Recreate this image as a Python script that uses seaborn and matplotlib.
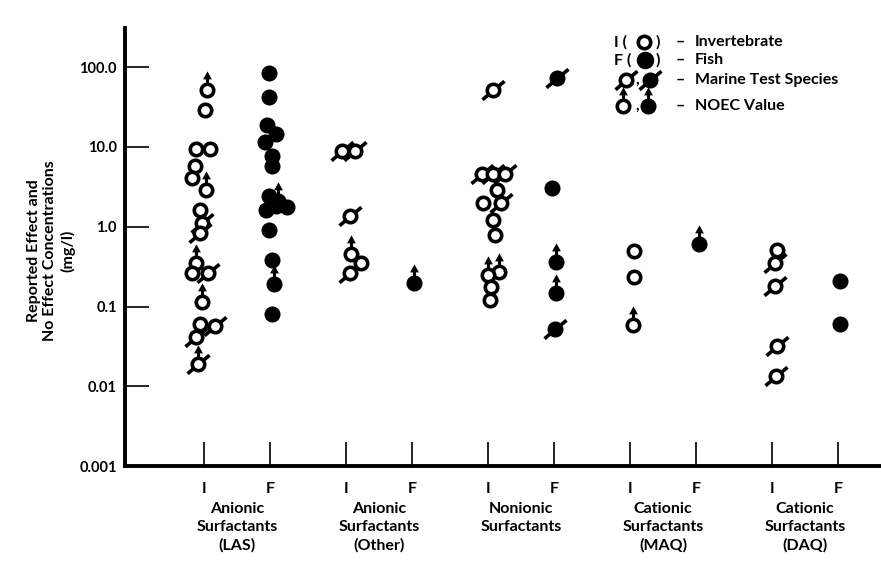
import numpy as np
import pandas as pd
import seaborn as sns
import matplotlib.pyplot as plt
from matplotlib.path import Path

# categories on the x axis
group_labels = ["Anionic\nSurfactants\n(LAS)", "Anionic\nSurfactants\n(Other)",
                "Nonionic\nSurfactants", "Cationic\nSurfactants\n(MAQ)",
                "Cationic\nSurfactants\n(DAQ)"]
kind_labels = ["I", "F"]
y_ticks = [0.001, 0.01, 0.1, 1, 10, 100]
y_tick_labels = ["0.001", "0.01", "0.1", "1.0", "10.0", "100.0"]

# how many values per (group, organism) series
series_group = [0, 0, 1, 1, 2, 2, 3, 3, 4, 4]
series_kind = ["I", "F", "I", "F", "I", "F", "I", "F", "I", "F"]
series_count = [18, 16, 6, 1, 13, 5, 3, 1, 5, 2]

# reported concentrations (mg/l)
value = [
    # LAS invertebrate
    51, 28.8, 9.4, 9.4, 5.8, 4.1, 2.9, 1.64, 1.11, 0.83, 0.35, 0.26, 0.26, 0.113, 0.06, 0.057, 0.042, 0.019,
    # LAS fish
    84, 42.5, 18.6, 14.6, 11.4, 7.8, 5.8, 2.4, 2.1, 1.8, 1.75, 1.6, 0.92, 0.38, 0.19, 0.081,
    # other anionic invertebrate / fish
    9.0, 9.0, 1.35, 0.46, 0.35, 0.26,
    0.2,
    # nonionic invertebrate / fish
    51, 4.55, 4.55, 4.55, 2.9, 2.0, 2.0, 1.23, 0.79, 0.27, 0.25, 0.176, 0.12,
    72.6, 3.1, 0.36, 0.15, 0.052,
    # MAQ invertebrate / fish
    0.49, 0.235, 0.058,
    0.61,
    # DAQ invertebrate / fish
    0.51, 0.35, 0.18, 0.032, 0.0134,
    0.21, 0.06,
]
# sideways scatter of overlapping symbols (fraction of I-F spacing)
jitter = [
    0.04, 0.01, -0.12, 0.08, -0.14, -0.19, 0.03, -0.07, -0.04, -0.07, -0.13, -0.19, 0.05, -0.03, -0.07, 0.16, -0.12, -0.09,
    -0.02, -0.02, -0.05, 0.08, -0.08, 0.03, 0.03, -0.02, 0.12, 0.08, 0.25, -0.06, -0.02, 0.03, 0.05, 0.03,
    -0.07, 0.13, 0.06, 0.07, 0.23, 0.06,
    0.02,
    0.07, -0.1, 0.08, 0.25, 0.13, -0.08, 0.2, 0.07, 0.1, 0.17, -0.01, 0.04, 0.02,
    0.04, -0.04, 0.03, 0.03, 0.01,
    0.06, 0.06, 0.05,
    0.04,
    0.07, 0.04, 0.04, 0.08, 0.06,
    0.03, 0.03,
]
# marine test species
marine = [
    0, 0, 0, 0, 0, 0, 0, 0, 1, 1, 0, 0, 1, 0, 0, 1, 1, 1,
    0, 0, 0, 0, 0, 0, 0, 0, 0, 0, 0, 0, 0, 0, 0, 0,
    1, 1, 1, 0, 0, 1,
    0,
    1, 1, 1, 1, 0, 0, 1, 0, 0, 0, 0, 0, 0,
    1, 0, 0, 0, 1,
    0, 0, 0,
    0,
    0, 1, 1, 1, 1,
    0, 0,
]
# NOEC values
noec = [
    1, 0, 0, 0, 0, 0, 1, 0, 0, 0, 1, 0, 0, 1, 0, 0, 0, 1,
    0, 0, 0, 0, 0, 0, 0, 0, 1, 0, 0, 0, 0, 0, 1, 0,
    0, 0, 0, 1, 0, 0,
    1,
    0, 0, 0, 0, 0, 0, 0, 0, 0, 1, 1, 0, 0,
    0, 0, 1, 1, 0,
    0, 0, 1,
    1,
    0, 0, 0, 0, 0,
    0, 0,
]

group_step = 2.15
df = pd.DataFrame({
    "group": np.repeat(series_group, series_count),
    "kind": np.repeat(series_kind, series_count),
    "value": value,
    "jitter": jitter,
    "marine": np.array(marine, dtype=bool),
    "noec": np.array(noec, dtype=bool),
})
df["x"] = df["group"] * group_step + (df["kind"] == "F") + df["jitter"]

# marker shapes
slash = Path([(-1, -0.84), (1, 0.84)], [Path.MOVETO, Path.LINETO])
arrow = Path([(-0.08, 0.38), (0.08, 0.38), (0.08, 0.58), (0.23, 0.58), (0, 1.0),
              (-0.23, 0.58), (-0.08, 0.58), (-0.08, 0.38)])

plt.rcParams["font.family"] = ["Lato", "DejaVu Sans"]
plt.rcParams["font.weight"] = "bold"
fw = "bold"

fig = plt.figure(figsize=(8.81, 5.70), dpi=100)
ax = fig.add_axes([0.142, 0.182, 0.858, 0.769])

circle_s = 80
lw = 2.6
arrow_s = 760

sns.scatterplot(data=df[df.marine], x="x", y="value", marker=slash, s=250,
                color="black", edgecolor="black", linewidth=lw, zorder=2, ax=ax)
sns.scatterplot(data=df[df.kind == "I"], x="x", y="value", marker="o", s=circle_s,
                color="white", edgecolor="black", linewidth=lw, zorder=3, ax=ax)
sns.scatterplot(data=df[df.kind == "F"], x="x", y="value", marker="o", s=circle_s,
                color="black", edgecolor="black", linewidth=lw, zorder=3, ax=ax)
sns.scatterplot(data=df[df.noec], x="x", y="value", marker=arrow, s=arrow_s,
                color="black", edgecolor="black", linewidth=0, zorder=4, ax=ax)

ax.set_yscale("log")
ax.set_ylim(0.001, 10 ** 2.49)
ax.set_xlim(-1.2, 10.25)
ax.set_yticks(y_ticks)
ax.set_yticklabels(y_tick_labels)
ax.minorticks_off()
tick_x = [g * group_step + k for g in range(len(group_labels)) for k in range(2)]
ax.set_xticks(tick_x)
ax.set_xticklabels(kind_labels * len(group_labels))
ax.tick_params(axis="both", direction="in", length=17, width=1.2)
ax.tick_params(axis="x", pad=11, labelsize=11.5)
ax.tick_params(axis="y", pad=6, labelsize=10.5)
for lab in ax.get_xticklabels() + ax.get_yticklabels():
    lab.set_fontweight(fw)
ax.set_xlabel("")
ax.set_ylabel("")
for side in ["top", "right"]:
    ax.spines[side].set_visible(False)
for side in ["left", "bottom"]:
    ax.spines[side].set_linewidth(2.8)

for g, lab in enumerate(group_labels):
    ax.text(g * group_step + 0.5, -0.082, lab, transform=ax.get_xaxis_transform(),
            ha="center", va="top", fontsize=11.5, fontweight=fw, linespacing=1.35)

fig.text(0.058, 0.56, "Reported Effect and\nNo Effect Concentrations\n(mg/l)",
         rotation=90, ha="center", va="center", fontsize=11.5, fontweight=fw,
         multialignment="center", linespacing=1.2)

# legend, placed in pixel terms of the axes
def ax_frac(px, py):
    return (px - 125) / 756, (466 - py) / 438

rows = [("I (", ")", "Invertebrate", 42), ("F (", ")", "Fish", 60)]
for pre, post, txt, py in rows:
    for px, s in [(614, pre), (655, post), (676, "\u2013"), (695, txt)]:
        fx, fy = ax_frac(px, py)
        ax.text(fx, fy, s, transform=ax.transAxes, ha="left", va="center",
                fontsize=11.5, fontweight=fw)
fx, fy = ax_frac(644, 42)
ax.scatter([fx], [fy], transform=ax.transAxes, marker="o", s=circle_s, color="white",
           edgecolor="black", linewidth=lw, zorder=5, clip_on=False)
fx, fy = ax_frac(645, 60)
ax.scatter([fx], [fy], transform=ax.transAxes, marker="o", s=circle_s + 20, color="black",
           edgecolor="black", linewidth=lw, zorder=5, clip_on=False)

for py, txt in [(80, "Marine Test Species"), (106, "NOEC Value")]:
    for px, s in [(676, "\u2013"), (695, txt), (635, ",")]:
        fx, fy = ax_frac(px, py)
        ax.text(fx, fy, s, transform=ax.transAxes, ha="left", va="center",
                fontsize=11.5, fontweight=fw)
for px, face in [(626, "white"), (650, "black")]:
    fx, fy = ax_frac(px, 80)
    ax.scatter([fx], [fy], transform=ax.transAxes, marker=slash, s=250, color="black",
               edgecolor="black", linewidth=lw, zorder=4, clip_on=False)
    ax.scatter([fx], [fy], transform=ax.transAxes, marker="o", s=circle_s, color=face,
               edgecolor="black", linewidth=lw, zorder=5, clip_on=False)
for px, face in [(623, "white"), (648, "black")]:
    fx, fy = ax_frac(px, 106)
    ax.scatter([fx], [fy], transform=ax.transAxes, marker="o", s=circle_s, color=face,
               edgecolor="black", linewidth=lw, zorder=5, clip_on=False)
    ax.scatter([fx], [fy], transform=ax.transAxes, marker=arrow, s=arrow_s, color="black",
               linewidth=0, zorder=5, clip_on=False)

fig.savefig("out.png", dpi=100)
